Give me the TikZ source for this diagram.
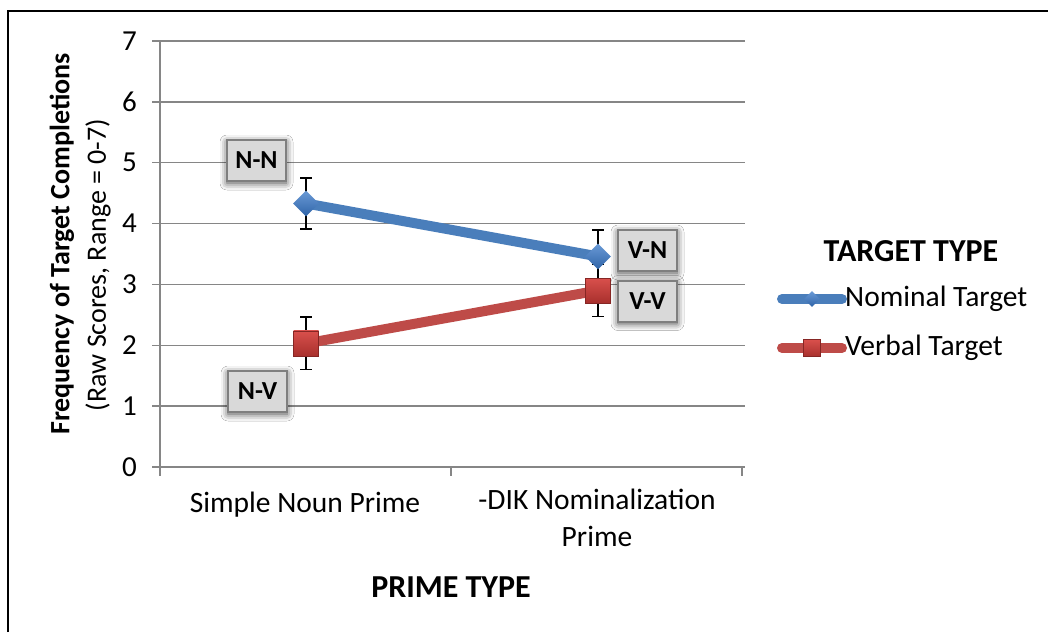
\documentclass[tikz,border=0pt]{standalone}
\usepackage{fontspec}
\setmainfont{Carlito}
\usetikzlibrary{shapes.geometric,shadows.blur}
\definecolor{gridgray}{HTML}{868686}
\definecolor{nomblue}{HTML}{4A7EBB}
\definecolor{nomtop}{HTML}{6A9AD6}
\definecolor{nombot}{HTML}{2F64A8}
\definecolor{verbred}{HTML}{BE4B48}
\definecolor{verbtop}{HTML}{D9504C}
\definecolor{verbbot}{HTML}{A8302D}
\definecolor{boxfill}{HTML}{D9D9D9}
\definecolor{boxline}{HTML}{7F7F7F}
\tikzset{
  grid line/.style={draw=gridgray, line width=1.5pt},
  tick label/.style={font=\fontsize{29}{32}\selectfont, anchor=east, inner sep=0pt},
  cat label/.style={font=\fontsize{29.5}{37}\selectfont, align=center, inner sep=0pt},
  nom line/.style={draw=nomblue, line width=10pt},
  verb line/.style={draw=verbred, line width=10pt},
  nom mark/.style={diamond, minimum width=26pt, minimum height=26pt, inner sep=0pt,
    top color=nomtop, bottom color=nombot, draw=none},
  verb mark/.style={rectangle, minimum width=25pt, minimum height=25pt, inner sep=0pt,
    top color=verbtop, bottom color=verbbot, draw=verbbot!80!black, line width=0.5pt},
  err bar/.style={draw=black, line width=1.6pt},
  pair box/.style={rectangle, fill=boxfill, draw=boxline, line width=2pt,
    minimum width=59pt, minimum height=41pt, inner sep=0pt,
    font=\fontsize{26}{28}\selectfont\bfseries,
    blur shadow={shadow xshift=0pt, shadow yshift=-2pt, shadow blur radius=7pt, shadow opacity=75}},
}
\begin{document}
\begin{tikzpicture}[x=1pt,y=-1pt]
\useasboundingbox (0,0) rectangle (1048,632);
\fill[white] (0,0) rectangle (1048,632);
% frame edges
\draw[line width=2pt] (8,632) -- (8,11) -- (1048,11);

% plot area: x in pixels, y in score units (0 at baseline 467)
\begin{scope}[yshift=-467pt, y=60.86pt]
  \foreach \v in {1,...,7}
    \draw[grid line] (152,\v) -- (745,\v);
  \draw[grid line] (160,0) -- (160,7);
  \draw[grid line] (152,0) -- (745,0);
  \foreach \x in {160,451,742}
    \draw[grid line] (\x,0) -- (\x,-0.14);
  \foreach \v in {0,...,7}
    \node[tick label] (tl\v) at (137,\v) {\v};

  % data points
  \coordinate (n1) at (306,4.33);
  \coordinate (n2) at (598,3.46);
  \coordinate (v1) at (306,2.03);
  \coordinate (v2) at (598,2.90);

  % error bars
  \foreach \p/\e in {n1/0.42,n2/0.43,v1/0.43,v2/0.43}{
    \draw[err bar] ([yshift=-\e*60.86pt]\p) -- ([yshift=\e*60.86pt]\p);
    \draw[err bar] ([xshift=-6pt,yshift=\e*60.86pt]\p) -- ([xshift=6pt,yshift=\e*60.86pt]\p);
    \draw[err bar] ([xshift=-6pt,yshift=-\e*60.86pt]\p) -- ([xshift=6pt,yshift=-\e*60.86pt]\p);
  }

  % series
  \draw[nom line] (n1) -- (n2);
  \draw[verb line] (v1) -- (v2);
  \node[nom mark] (mn1) at (n1) {};
  \node[nom mark] (mn2) at (n2) {};
  \node[verb mark] (mv1) at (v1) {};
  \node[verb mark] (mv2) at (v2) {};
\end{scope}

% cell labels
\node[pair box] (NN) at (256.5,160.5) {N-N};
\node[pair box] (VN) at (647.5,250.5) {V-N};
\node[pair box] (VV) at (647.5,301) {V-V};
\node[pair box] (NV) at (257.5,391.5) {N-V};

% category axis labels
\node[cat label] (c1) at (305,505) {Simple Noun Prime};
\node[cat label, anchor=north] (c2) at (597,489) {-DIK Nominalization\\Prime};
\node[font=\fontsize{32}{36}\selectfont\bfseries] (xt) at (451,587) {PRIME TYPE};

% value axis title
\node[rotate=90, font=\fontsize{28}{32}\selectfont\bfseries] (yt1) at (62,244) {Frequency of Target Completions};
\node[rotate=90, font=\fontsize{28}{32}\selectfont] (yt2) at (98,265) {(Raw Scores, Range = 0-7)};

% legend
\node[font=\fontsize{32}{36}\selectfont\bfseries] (lt) at (911,251) {TARGET TYPE};
\coordinate (la1) at (782,299);
\coordinate (lb1) at (842,299);
\coordinate (la2) at (782,348);
\coordinate (lb2) at (842,348);
\draw[nom line, line cap=round] (la1) -- (lb1);
\draw[verb line, line cap=round] (la2) -- (lb2);
\node[nom mark, minimum width=16pt, minimum height=16pt] (lm1) at (812,299) {};
\node[verb mark, minimum width=17pt, minimum height=17pt] (lm2) at (812,348) {};
\node[font=\fontsize{29.5}{32}\selectfont, anchor=west, inner sep=0pt] (le1) at (845,299) {Nominal Target};
\node[font=\fontsize{29.5}{32}\selectfont, anchor=west, inner sep=0pt] (le2) at (845,348) {Verbal Target};
\end{tikzpicture}
\end{document}
